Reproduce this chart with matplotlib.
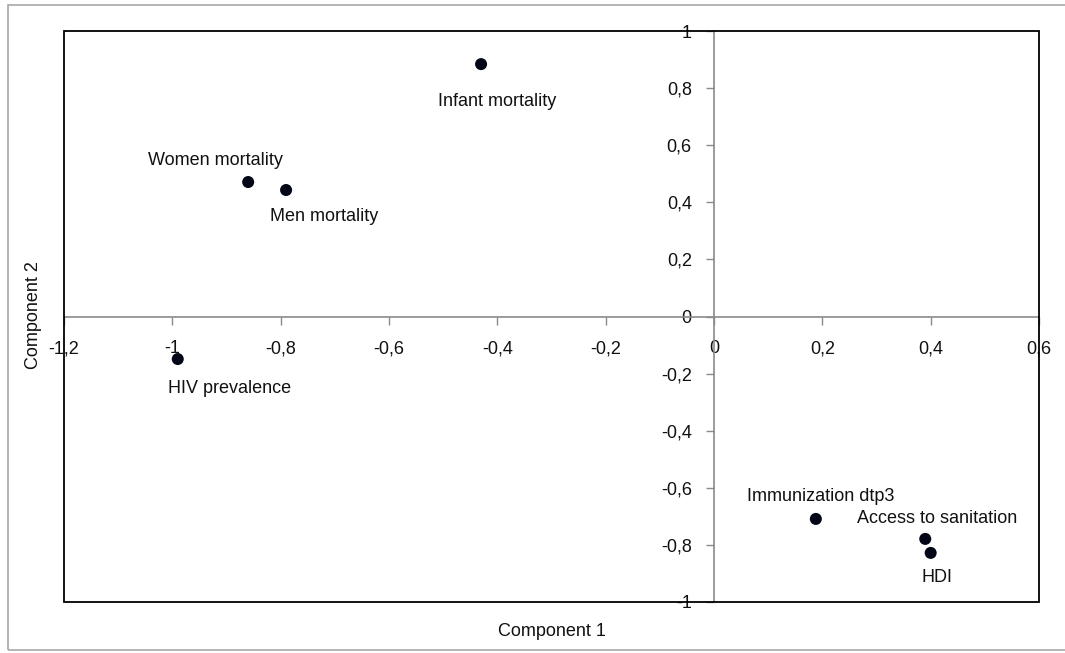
import matplotlib
matplotlib.use("Agg")
import matplotlib.pyplot as plt
from matplotlib.patches import Rectangle
from matplotlib.ticker import FuncFormatter, MultipleLocator

# Component loadings for each indicator
indicators = ["Infant mortality", "Women mortality", "Men mortality", "HIV prevalence",
              "Immunization dtp3", "Access to sanitation", "HDI"]
component1 = [-0.43, -0.86, -0.79, -0.99, 0.188, 0.39, 0.40]
component2 = [0.884, 0.471, 0.443, -0.149, -0.709, -0.779, -0.828]

# label offsets (points) relative to each marker
label_offsets = {
    "Infant mortality": (11.5, -26.6),
    "Women mortality": (-23.8, 15.8),
    "Men mortality": (27.4, -19.4),
    "HIV prevalence": (37.4, -20.9),
    "Immunization dtp3": (3.6, 15.8),
    "Access to sanitation": (8.6, 14.4),
    "HDI": (4.3, -18.0),
}

plt.rcParams["font.family"] = ["Liberation Sans", "DejaVu Sans"]

W, H = 1065, 653
fig = plt.figure(figsize=(W / 100, H / 100), dpi=100)
fig.patch.set_facecolor("white")

# outer chart frame
fig.patches.append(Rectangle((8 / W, 3 / H), (W + 10) / W, (H - 8) / H,
                             transform=fig.transFigure, fill=False,
                             edgecolor="#a8a8a8", linewidth=1.2))

ax = fig.add_axes([64 / W, 1 - 602 / H, (1039 - 64) / W, (602 - 31) / H])
ax.set_xlim(-1.2, 0.6)
ax.set_ylim(-1, 1)

axis_grey = "#8a8a8a"
for side in ("top", "right"):
    ax.spines[side].set_visible(False)
ax.spines["left"].set_position(("data", 0))
ax.spines["bottom"].set_position(("data", 0))
for side in ("left", "bottom"):
    ax.spines[side].set_color(axis_grey)
    ax.spines[side].set_linewidth(1.2)

# plot-area border
ax.add_patch(Rectangle((0, 0), 1, 1, transform=ax.transAxes, fill=False,
                       edgecolor="black", linewidth=1.3, clip_on=False, zorder=5))

def comma_fmt(v, pos):
    v = round(v, 1)
    if v == 0:
        return "0"
    return ("%g" % v).replace(".", ",")

ax.xaxis.set_major_locator(MultipleLocator(0.2))
ax.yaxis.set_major_locator(MultipleLocator(0.2))
ax.xaxis.set_major_formatter(FuncFormatter(comma_fmt))
ax.yaxis.set_major_formatter(FuncFormatter(comma_fmt))
ax.tick_params(axis="x", direction="out", length=6, width=1, color=axis_grey,
               pad=11, labelsize=13, labelcolor="#111111")
ax.tick_params(axis="y", direction="out", length=6, width=1, color=axis_grey,
               pad=10, labelsize=13, labelcolor="#111111")

ax.scatter(component1, component2, s=75, color="#020617", zorder=6,
           edgecolors="none")

for name, x, y in zip(indicators, component1, component2):
    ax.annotate(name, (x, y), xytext=label_offsets[name], textcoords="offset points",
                ha="center", va="center", fontsize=13, color="#111111")

fig.text((64 + 1039) / 2 / W, 1 - 632 / H, "Component 1", ha="center", va="center",
         fontsize=13, color="#111111")
fig.text(33 / W, 1 - 315 / H, "Component 2", ha="center", va="center",
         rotation=90, fontsize=13, color="#111111")

fig.savefig("out.png", dpi=100, facecolor="white")
